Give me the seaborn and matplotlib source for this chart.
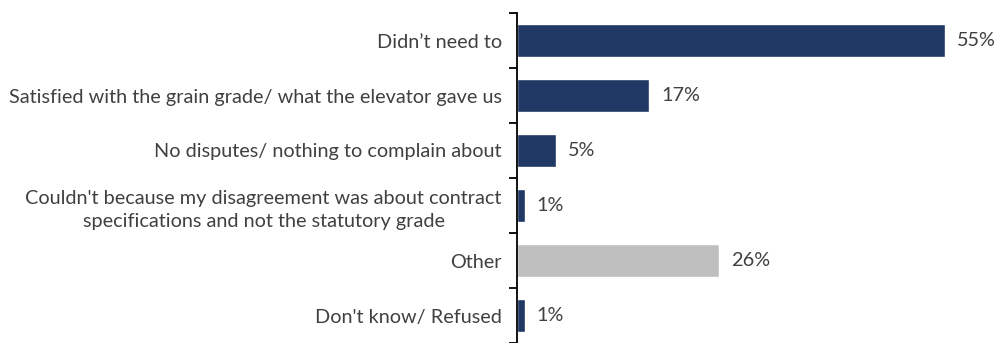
import matplotlib
matplotlib.use("Agg")
import matplotlib.pyplot as plt
import seaborn as sns
import pandas as pd
import numpy as np

categories = [
    "Didn\u2019t need to",
    "Satisfied with the grain grade/ what the elevator gave us",
    "No disputes/ nothing to complain about",
    "Couldn't because my disagreement was about contract\nspecifications and not the statutory grade",
    "Other",
    "Don't know/ Refused",
]
values = [55, 17, 5, 1, 26, 1]
groups = ["main", "main", "main", "main", "other", "main"]
palette = {"main": "#1F3864", "other": "#BFBFBF"}

df = pd.DataFrame({"cat": categories, "val": values, "grp": groups})

sns.set_theme(style="white")
plt.rcParams["font.family"] = ["Lato", "DejaVu Sans"]

fig = plt.figure(figsize=(9.97, 3.43), dpi=100)
ax = fig.add_axes([517 / 997, 0, 480 / 997, 330 / 343])

sns.barplot(data=df, x="val", y="cat", hue="grp", palette=palette, orient="h",
            width=0.59, dodge=False, legend=False, ax=ax, saturation=1)

ax.set_xlim(0, 480 / 7.78)
ax.set_ylim(5.39, -0.5)
ax.set_xlabel("")
ax.set_ylabel("")
ax.set_xticks([])
for s in ["top", "right", "bottom"]:
    ax.spines[s].set_visible(False)
ax.spines["left"].set_color("#000000")
ax.spines["left"].set_linewidth(1.3)

ax.set_yticks(range(len(categories)))
ax.set_yticklabels(categories, fontsize=14.3, color="#404040", linespacing=1.45)
for lbl in ax.get_yticklabels():
    lbl.set_multialignment("center")
ax.tick_params(axis="y", which="major", length=0, pad=11)
ax.set_yticks(np.arange(-0.5, len(categories), 1.0), minor=True)
ax.tick_params(axis="y", which="minor", length=6, width=1.3, color="#000000", left=True)

for i, v in enumerate(values):
    ax.text(v + 1.5, i, f"{v}%", va="center", ha="left", fontsize=14.3, color="#404040")

fig.savefig("out.png", dpi=100)
